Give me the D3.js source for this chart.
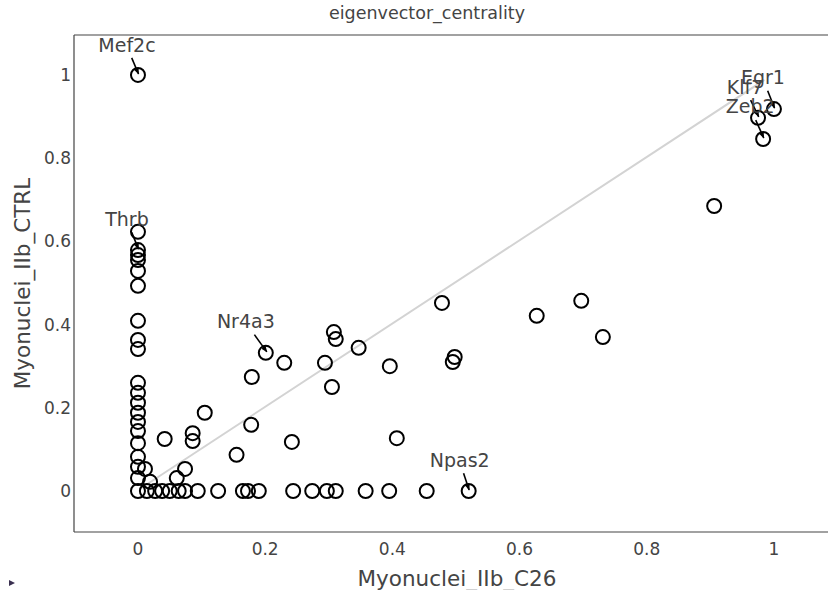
<!DOCTYPE html>
<html>
<head>
<meta charset="utf-8">
<script src="https://cdn.jsdelivr.net/npm/d3@7"></script>
<style>
  body { margin: 0; background: #fff; }
  svg text { font-family: "DejaVu Sans", Verdana, sans-serif; fill: #444; }
</style>
</head>
<body>
<div id="chart"></div>
<script>
// eigenvector centrality, C26 vs CTRL
var xValues = [
  0, 0, 0, 0, 0, 0, 0, 0, 0, 0, 0, 0, 0, 0, 0, 0, 0, 0, 0, 0, 0,
  0.014, 0.027, 0.038, 0.05, 0.064, 0.074, 0.094, 0.126, 0.165, 0.173, 0.19,
  0.244, 0.274, 0.297, 0.311, 0.358, 0.395, 0.454, 0.52,
  0.011, 0.019, 0.061, 0.074, 0.042, 0.086, 0.086, 0.105, 0.155, 0.178, 0.179,
  0.201, 0.23, 0.242, 0.294, 0.305, 0.308, 0.311, 0.347, 0.396, 0.407,
  0.478, 0.495, 0.498, 0.627, 0.697, 0.731, 0.906, 0.975, 0.983, 1.0
];
var yValues = [
  1.0, 0.623, 0.579, 0.567, 0.555, 0.529, 0.493, 0.409, 0.363, 0.341, 0.26,
  0.236, 0.212, 0.188, 0.166, 0.144, 0.115, 0.082, 0.058, 0.031, 0,
  0, 0, 0, 0, 0, 0, 0, 0, 0, 0, 0,
  0, 0, 0, 0, 0, 0, 0, 0,
  0.053, 0.022, 0.031, 0.053, 0.125, 0.139, 0.12, 0.188, 0.087, 0.159, 0.274,
  0.332, 0.308, 0.118, 0.308, 0.25, 0.382, 0.365, 0.344, 0.30, 0.127,
  0.452, 0.31, 0.322, 0.421, 0.457, 0.37, 0.685, 0.897, 0.846, 0.918
];
var labelNames = ["Mef2c", "Thrb", "Nr4a3", "Npas2", "Egr1", "Klf7", "Zeb2"];
var labelX = [0, 0, 0.201, 0.52, 1.0, 0.975, 0.983];
var labelY = [1.0, 0.579, 0.332, 0, 0.918, 0.897, 0.846];
var fitX = [0.004, 0.985];
var fitY = [0.006, 0.988];
var xTicks = [0, 0.2, 0.4, 0.6, 0.8, 1];
var yTicks = [0, 0.2, 0.4, 0.6, 0.8, 1];

// label offsets in px (text centre relative to point)
var labelOffsets = [[-11, -30], [-11, -31], [-20, -32], [-9, -31], [-11, -32], [-13, -31], [-13, -33]];

var W = 828, H = 590;
var m = {left: 74, right: 828, top: 35, bottom: 532};

var x = d3.scaleLinear().domain([-0.1006, 1.085]).range([m.left, m.right]);
var y = d3.scaleLinear().domain([-0.0986, 1.096]).range([m.bottom, m.top]);
var fmt = d3.format("~g");

var svg = d3.select("#chart").append("svg")
  .attr("width", W)
  .attr("height", H);

svg.append("defs").append("marker")
  .attr("id", "arrow")
  .attr("viewBox", "0 0 10 10")
  .attr("refX", 9).attr("refY", 5)
  .attr("markerWidth", 4).attr("markerHeight", 4)
  .attr("orient", "auto")
  .append("path")
  .attr("d", "M0,1 L10,5 L0,9 Z")
  .style("fill", "#000");

// title
svg.append("text")
  .attr("x", 427).attr("y", 19)
  .style("text-anchor", "middle")
  .style("font-size", "17.5px")
  .text("eigenvector_centrality");

// frame lines
svg.append("line")
  .attr("x1", m.left).attr("x2", m.left).attr("y1", m.top).attr("y2", m.bottom)
  .style("stroke", "#444").style("stroke-width", 1.2);
svg.append("line")
  .attr("x1", m.left).attr("x2", m.right).attr("y1", m.top).attr("y2", m.top)
  .style("stroke", "#444").style("stroke-width", 1.2);
svg.append("line")
  .attr("x1", m.left).attr("x2", m.right).attr("y1", m.bottom).attr("y2", m.bottom)
  .style("stroke", "#444").style("stroke-width", 1.2);

// ticks
svg.append("g").selectAll("text")
  .data(xTicks).enter().append("text")
  .attr("x", d => x(d)).attr("y", 555)
  .style("text-anchor", "middle")
  .style("font-size", "17px")
  .text(d => fmt(d));
svg.append("g").selectAll("text")
  .data(yTicks).enter().append("text")
  .attr("x", 71).attr("y", d => y(d))
  .attr("dy", "0.36em")
  .style("text-anchor", "end")
  .style("font-size", "17px")
  .text(d => fmt(d));

// axis titles
svg.append("text")
  .attr("x", 457).attr("y", 586)
  .style("text-anchor", "middle")
  .style("font-size", "21.5px")
  .text("Myonuclei_IIb_C26");
svg.append("text")
  .attr("transform", `translate(30,${(m.top + m.bottom) / 2}) rotate(-90)`)
  .style("text-anchor", "middle")
  .style("font-size", "21.5px")
  .text("Myonuclei_IIb_CTRL");

// fit line
var plot = svg.append("g");
plot.append("line")
  .attr("x1", x(fitX[0])).attr("y1", y(fitY[0]))
  .attr("x2", x(fitX[1])).attr("y2", y(fitY[1]))
  .style("stroke", "#d3d3d3").style("stroke-width", 2);

// points
plot.selectAll("circle")
  .data(d3.range(xValues.length)).enter().append("circle")
  .attr("cx", i => x(xValues[i]))
  .attr("cy", i => y(yValues[i]))
  .attr("r", 7)
  .style("fill", "#fff")
  .style("fill-opacity", 0)
  .style("stroke", "#000")
  .style("stroke-width", 2);

// annotations
var ann = svg.append("g").selectAll("g")
  .data(d3.range(labelNames.length)).enter().append("g");
ann.append("line")
  .attr("x1", i => x(labelX[i]) + labelOffsets[i][0] * 0.57)
  .attr("y1", i => y(labelY[i]) + labelOffsets[i][1] * 0.57)
  .attr("x2", i => x(labelX[i]) - labelOffsets[i][0] * 0.05)
  .attr("y2", i => y(labelY[i]) - 1)
  .style("stroke", "#000").style("stroke-width", 1.6)
  .attr("marker-end", "url(#arrow)");
ann.append("text")
  .attr("x", i => x(labelX[i]) + labelOffsets[i][0])
  .attr("y", i => y(labelY[i]) + labelOffsets[i][1])
  .attr("dy", "0.36em")
  .style("text-anchor", "middle")
  .style("font-size", "19px")
  .text(i => labelNames[i]);

// small marker in the bottom-left corner
svg.append("path")
  .attr("d", "M9,580 L15,583 L9,586 Z")
  .style("fill", "#3a3050");
</script>
</body>
</html>
